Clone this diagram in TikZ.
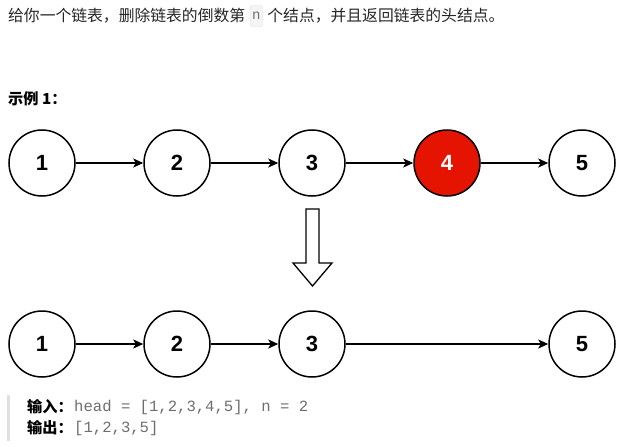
\documentclass[tikz,border=0pt]{standalone}
\usepackage{fontspec}
\setmainfont{Liberation Sans}
\setmonofont{Liberation Mono}
\newfontfamily\cjk{Noto Sans CJK SC}
\usetikzlibrary{arrows.meta}
\definecolor{dioRed}{RGB}{229,20,0}
\definecolor{txt}{RGB}{38,38,38}
\definecolor{codegray}{RGB}{110,110,110}
\tikzset{
  lnode/.style={circle,draw=black,line width=1.5pt,minimum size=66pt,inner sep=0pt,
    fill=white,font=\fontsize{22}{22}\selectfont\bfseries},
  hot/.style={lnode,fill=dioRed,text=white},
  link/.style={line width=1.4pt,-{Stealth[length=10pt,width=9pt,inset=2.5pt]}},
  para/.style={anchor=west,inner sep=0pt,text=txt,font=\cjk\fontsize{15.8}{18}\selectfont},
  codebox/.style={anchor=west,draw=black!12,fill=black!4,rounded corners=2.5pt,inner xsep=2pt,
    minimum height=21pt,text=codegray,font=\ttfamily\fontsize{14}{16}\selectfont},
  mono/.style={anchor=west,inner sep=0pt,text=codegray,font=\ttfamily\fontsize{15.6}{18}\selectfont},
  blockarrow/.style={draw=black,line width=1.3pt,fill=white,line join=miter}
}
\begin{document}
\begin{tikzpicture}[x=1pt,y=-1pt]
\useasboundingbox[fill=white] (0,0) rectangle (630,447);
% heading text
\node[para] (t1) at (8,16) {给你一个链表，删除链表的倒数第};
\node[codebox] (tn) at ([xshift=4.5pt]t1.east) {n};
\node[para] (t2) at ([xshift=4.5pt]tn.east) {个结点，并且返回链表的头结点。};
\node[para,font=\cjk\bfseries\fontsize{15.2}{18}\selectfont,text=black] (ex) at (8,99) {示例 1：};
% top list
\node[lnode] (a1) at (42,163) {1};
\node[lnode] (a2) at (177,163) {2};
\node[lnode] (a3) at (312,163) {3};
\node[hot]   (a4) at (447,163) {4};
\node[lnode] (a5) at (582,163) {5};
\draw[link] (a1) -- (a2);
\draw[link] (a2) -- (a3);
\draw[link] (a3) -- (a4);
\draw[link] (a4) -- (a5);
% block arrow
\coordinate (ba) at (312.5,209);
\draw[blockarrow] (306,209) -- (319,209) -- (319,263) -- (332,263) -- (312.5,286)
  -- (293,263) -- (306,263) -- cycle;
% bottom list
\node[lnode] (b1) at (42,344) {1};
\node[lnode] (b2) at (177,344) {2};
\node[lnode] (b3) at (312,344) {3};
\node[lnode] (b5) at (582,344) {5};
\draw[link] (b1) -- (b2);
\draw[link] (b2) -- (b3);
\draw[link] (b3) -- (b5);
% example block
\fill[black!12] (7,395) rectangle (10,441);
\node[para,font=\cjk\bfseries\fontsize{15.2}{18}\selectfont,text=black] (in) at (27,407) {输入：};
\node[mono] (inv) at ([xshift=1pt]in.east) {head = [1,2,3,4,5], n = 2};
\node[para,font=\cjk\bfseries\fontsize{15.2}{18}\selectfont,text=black] (out) at (27,428) {输出：};
\node[mono] (outv) at ([xshift=1pt]out.east) {[1,2,3,5]};
\end{tikzpicture}
\end{document}
